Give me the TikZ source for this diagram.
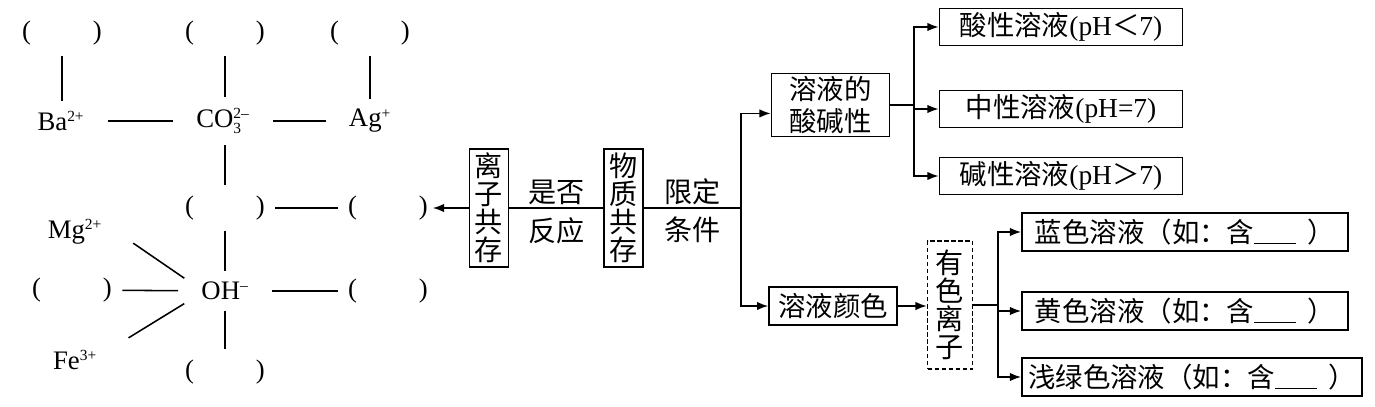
\documentclass[tikz,border=0pt]{standalone}
\usepackage{amsmath}
\usepackage{fontspec}
\setmainfont{Liberation Serif}
\newfontfamily\cjk{Noto Sans CJK SC}
\usetikzlibrary{positioning, arrows.meta}

\newcommand{\blk}{(\hspace{44pt})}
\newcommand{\gap}{\rule[-1pt]{30pt}{0.7pt}}
\newcommand{\smallidx}[1]{\text{\fontsize{11}{11}\selectfont #1}}
\newcommand{\chg}[1]{$^{\smallidx{#1}}$}

\begin{document}
\begin{tikzpicture}[
  x=0.025cm, y=-0.025cm,
  line width=1.1pt,
  font=\fontsize{19}{22}\selectfont,
  ion/.style={inner xsep=10pt, inner ysep=1pt},
  blank/.style={inner xsep=1pt, inner ysep=1pt},
  link/.style={shorten <=6pt, shorten >=6pt},
  vbox/.style={draw, align=center, inner xsep=1pt, inner ysep=1.5pt, font=\cjk\fontsize{20}{20}\selectfont},
  hbox/.style={draw, align=center, inner xsep=4pt, inner ysep=2pt, font=\cjk\fontsize{19.5}{23}\selectfont},
  phbox/.style={hbox, minimum width=173pt, minimum height=26pt},
  colbox/.style={hbox, minimum width=232pt, minimum height=27pt},
  lbl/.style={inner sep=1pt, font=\cjk\fontsize{20}{21}\selectfont},
  arr/.style={-{Latex[length=8pt, width=6pt]}}
]
\useasboundingbox (0,0) rectangle (1375,407);

% --- ions and blanks ---
\node[blank] (pa1) at (62,33) {\blk};
\node[blank] (pa2) at (225,33) {\blk};
\node[blank] (pa3) at (370,33) {\blk};
\node[ion] (ba) at (61,121) {Ba\chg{2+}};
\node[ion] (co3) at (223,121) {$\text{CO}_{\smallidx{3}}^{\smallidx{2--}}$};
\node[ion] (ag) at (370,121) {Ag\chg{+}};
\node[blank] (pb) at (225,208) {\blk};
\node[blank] (pc) at (388,208) {\blk};
\node[ion] (mg) at (75,232) {Mg\chg{2+}};
\node[blank] (pd) at (72,290) {\blk};
\node[ion] (oh) at (225,291) {OH\chg{--}};
\node[blank] (pe) at (388,291) {\blk};
\node[ion] (fe) at (75,360) {Fe\chg{3+}};
\node[blank] (pf) at (225,372) {\blk};

\draw[link] (pa1) -- (pa1 |- ba.north);
\draw[link] (pa2) -- (pa2 |- co3.north);
\draw[link] (pa3) -- (ag);
\draw[link] (ba) -- (co3);
\draw[link] (co3) -- (ag);
\draw[link] (co3.south -| pb) -- (pb);
\draw[link] (pb) -- (pc);
\draw[link] (pb) -- (oh);
\draw[link] (pd) -- (oh);
\draw[link] (oh) -- (pe);
\draw[link] (oh) -- (pf);
\draw[shorten <=14pt, shorten >=2pt] (mg.east) -- (oh.north west);
\draw[shorten <=14pt, shorten >=2pt] (fe.north east) -- (oh.south west);

% --- main chain ---
\node[vbox, minimum width=28pt, minimum height=84pt] (lizi) at (489,208) {离\\子\\共\\存};
\node[vbox, minimum width=28pt, minimum height=84pt] (wuzhi) at (623.5,208) {物\\质\\共\\存};
\coordinate (j1) at (741,208);

\draw[arr, shorten >=2pt] (lizi) -- (pc);
\draw (lizi) -- node[lbl, above=1pt] {是否} node[lbl, below=5pt] {反应} (wuzhi);
\draw (wuzhi) -- node[lbl, above=1pt] {限定} node[lbl, below=5pt] {条件} (j1);

% --- acidity branch ---
\node[hbox, minimum width=84pt, minimum height=45pt] (sjx) at (830.5,105) {溶液的\\酸碱性};
\coordinate (j2) at (914,105);
\node[phbox] (acid) at (1061,27) {酸性溶液{\rmfamily(pH}＜{\rmfamily 7)}};
\node[phbox] (neut) at (1061,109) {中性溶液{\rmfamily(pH=7)}};
\node[phbox] (base) at (1061,176) {碱性溶液{\rmfamily(pH}＞{\rmfamily 7)}};

\draw[arr] (j1) |- ([yshift=-6pt]sjx.west);
\draw (sjx) -- (j2);
\draw[arr] (j2) |- (acid);
\draw[arr] (j2) |- (neut);
\draw[arr] (j2) |- (base);

% --- colour branch ---
\node[hbox, minimum width=91pt, minimum height=27pt] (ys) at (833,306) {溶液颜色};
\node[vbox, densely dashed, minimum width=32pt, minimum height=91pt] (yl) at (950,305) {有\\色\\离\\子};
\coordinate (j3) at (998,305);
\node[colbox] (blue) at (1185,232) {蓝色溶液（如：含\gap\hspace{8pt}）};
\node[colbox] (yellow) at (1185,311) {黄色溶液（如：含\gap\hspace{8pt}）};
\node[colbox, minimum width=242pt] (green) at (1192,377) {浅绿色溶液（如：含\gap\hspace{8pt}）};

\draw[arr] (j1) |- (ys);
\draw[arr] (ys.east) -- (ys.east -| yl.west);
\draw (yl) -- (j3);
\draw[arr] (j3) |- (blue);
\draw[arr] (j3) |- (yellow);
\draw[arr] (j3) |- (green);

\end{tikzpicture}
\end{document}
